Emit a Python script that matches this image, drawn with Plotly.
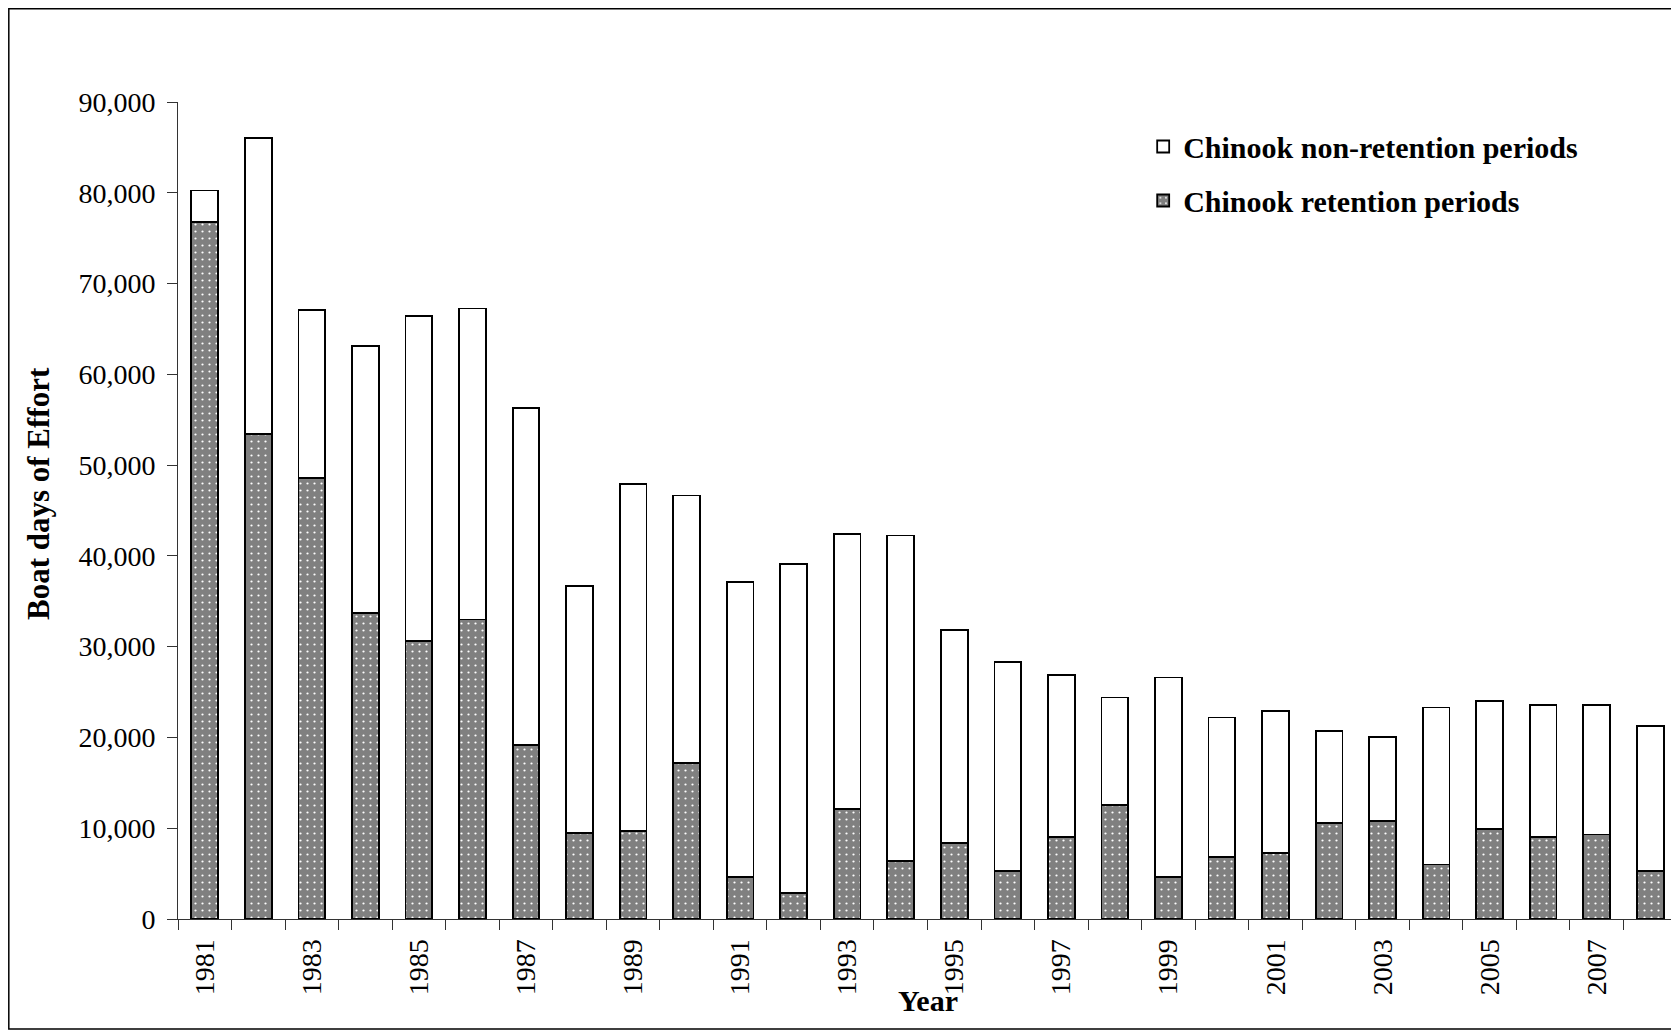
import plotly.graph_objects as go

years = [str(y) for y in range(1981, 2009)]

# boat days of effort
retention = [76800, 53450, 48600, 33700, 30600, 33000, 19150, 9500, 9700, 17200,
             4650, 2900, 12100, 6400, 8350, 5300, 9050, 12600, 4650, 6850,
             7250, 10550, 10800, 6000, 9950, 9050, 9300, 5300]
non_retention = [3450, 32550, 18450, 29400, 35800, 34250, 37150, 27200, 38250, 29450,
                 32500, 36250, 30350, 35850, 23500, 23050, 17800, 11800, 21950, 15350,
                 15650, 10150, 9250, 17300, 14050, 14500, 14250, 16000]

tick_labels = [y if int(y) % 2 == 1 else "" for y in years]
y_ticks = list(range(0, 90001, 10000))

# the page body has an 8px margin, so the figure is shrunk by that much
OFF = 8
W, H = 1679 - OFF, 1031 - OFF
L, R, T, B = 170, 1.5, 94, 112
pw, ph = W - L - R, H - T - B

def px_x(x):
    # window pixel -> paper
    return (x - OFF - L) / pw

def px_y(y):
    return (H - B - (y - OFF)) / ph

FONT = "Liberation Serif, Times New Roman, serif"

fig = go.Figure()
fig.add_trace(go.Bar(
    x=years, y=retention, name="Chinook retention periods",
    legendgroup="a", legendrank=2,
    marker=dict(color="#808080", line=dict(color="black", width=1.8),
                pattern=dict(shape=".", fgcolor="white", bgcolor="#808080",
                             size=7, solidity=0.08, fillmode="replace")),
))
fig.add_trace(go.Bar(
    x=years, y=non_retention, name="Chinook non-retention periods",
    legendgroup="b", legendrank=1,
    marker=dict(color="white", line=dict(color="black", width=1.8)),
))

fig.update_layout(
    width=W, height=H,
    barmode="stack", bargap=0.5,
    plot_bgcolor="white", paper_bgcolor="white",
    margin=dict(l=L, r=R, t=T, b=B),
    font=dict(family=FONT, color="black", size=28),
    showlegend=True,
    legend=dict(x=px_x(1143.5), y=px_y(120.5), xanchor="left", yanchor="top",
                traceorder="grouped", tracegroupgap=12,
                font=dict(family=FONT, size=30, color="black", weight="bold"),
                bgcolor="rgba(0,0,0,0)"),
    xaxis=dict(type="category", tickmode="array", tickvals=years, ticktext=tick_labels,
               tickson="boundaries", ticks="outside", ticklen=10, tickcolor="#333",
               showline=True, linecolor="#333", linewidth=1, tickangle=-90,
               tickfont=dict(size=28), showgrid=False, range=[-0.5, 27.5],
               ticklabelstandoff=8),
    yaxis=dict(range=[0, 90000], tickvals=y_ticks, tickformat=",", ticks="outside",
               ticklen=10, tickcolor="#333", showline=True, linecolor="#333", linewidth=1,
               showgrid=False, zeroline=False, tickfont=dict(size=28),
               ticklabelstandoff=6),
    annotations=[
        dict(text="<b>Boat days of Effort</b>", textangle=-90, x=px_x(38), y=px_y(494),
             xanchor="center", yanchor="middle",
             xref="paper", yref="paper", showarrow=False, font=dict(size=31)),
        dict(text="<b>Year</b>", x=px_x(928), y=px_y(1000), xanchor="center",
             yanchor="middle", xref="paper", yref="paper", showarrow=False,
             font=dict(size=30)),
    ],
    shapes=[dict(type="rect", xref="paper", yref="paper",
                 x0=px_x(OFF + 0.75), x1=px_x(1677), y0=px_y(1029), y1=px_y(OFF + 0.75),
                 line=dict(color="black", width=1.5), layer="below")],
)

fig.write_html("out.html")
